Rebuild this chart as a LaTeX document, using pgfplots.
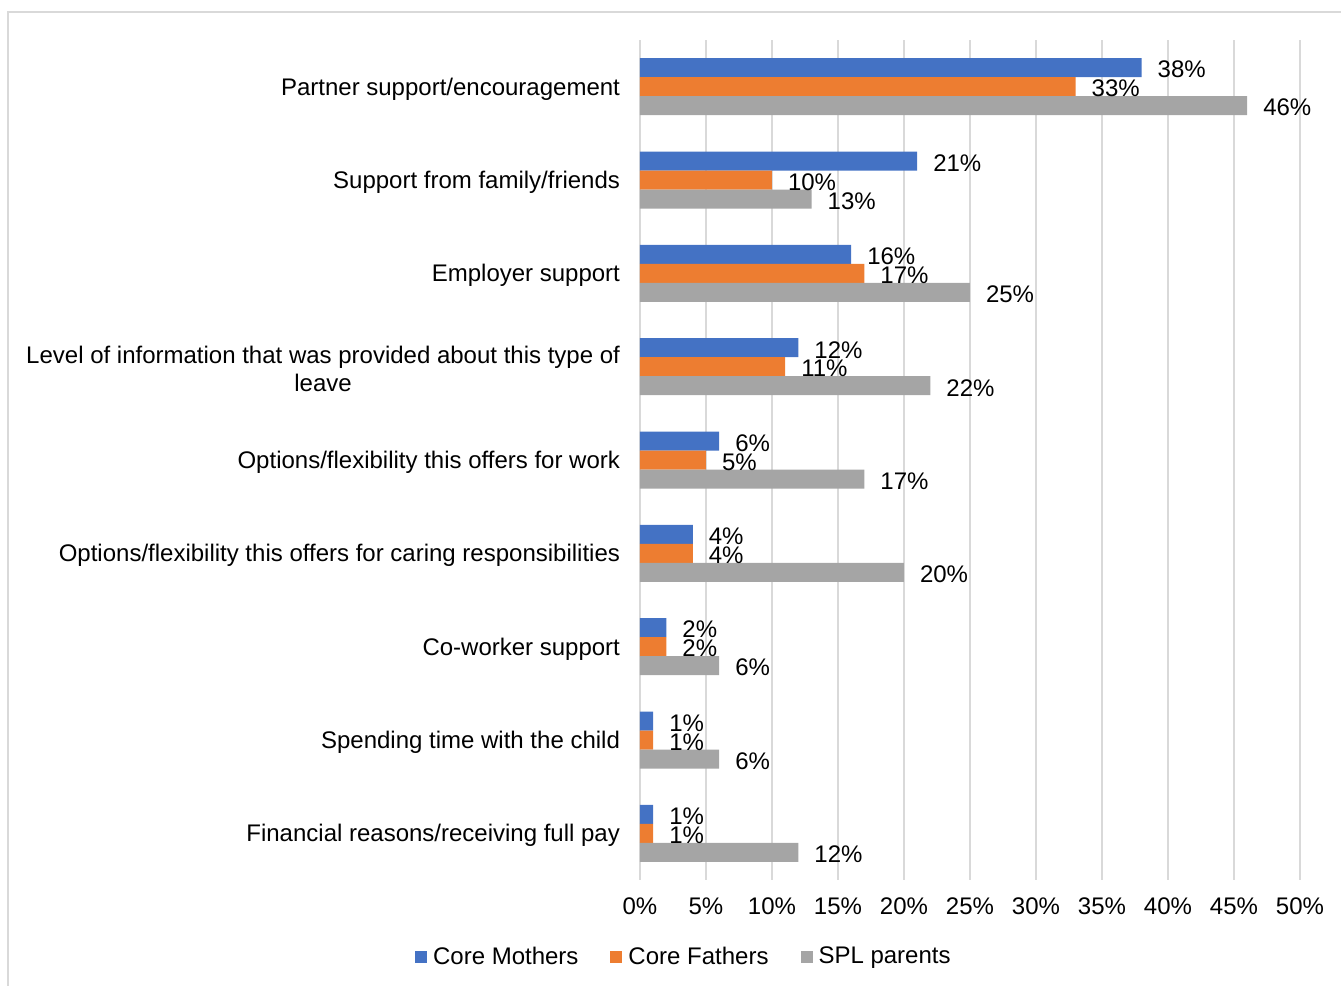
\documentclass[border=0pt]{standalone}
\usepackage{fontspec}
\setmainfont{Liberation Sans}
\usepackage{pgfplots}
\pgfplotsset{compat=1.18}
\definecolor{cmoth}{HTML}{4472C4}
\definecolor{cfath}{HTML}{ED7D31}
\definecolor{splp}{HTML}{A5A5A5}
\definecolor{gridc}{HTML}{D9D9D9}

\begin{document}
\begin{tikzpicture}[font=\fontsize{12}{14}\selectfont]
\useasboundingbox (0,0) rectangle (670.5pt,-493pt);
% outer chart frame (cropped at right and bottom)
\draw[gridc, line width=1pt] (4pt,-493pt) -- (4pt,-6pt) -- (670.5pt,-6pt);
\begin{axis}[
    at={(320pt,-440pt)}, anchor=south west,
    scale only axis, width=330pt, height=420pt,
    xbar, bar width=9.5pt,
    xmin=0, xmax=50, ymin=-0.5, ymax=8.5,
    y dir=reverse,
    axis line style={draw=none},
    major tick length=0pt,
    xmajorgrids, grid style={gridc, line width=1pt},
    xtick={0,5,...,50},
    xticklabel={\pgfmathprintnumber{\tick}\%},
    xticklabel style={yshift=-5.5pt},
    /pgf/number format/assume math mode=true,
    ytick={0,...,8},
    yticklabels={
        Partner support/encouragement,
        Support from family/friends,
        Employer support,
        {Level of information that was provided about this type of\\leave},
        Options/flexibility this offers for work,
        Options/flexibility this offers for caring responsibilities,
        Co-worker support,
        Spending time with the child,
        Financial reasons/receiving full pay},
    yticklabel style={align=center, xshift=-6.5pt, yshift=-1.2pt},
    point meta=x,
    nodes near coords={\pgfmathprintnumber{\pgfplotspointmeta}\%},
    every node near coord/.append style={anchor=west, xshift=4.5pt, yshift=-1pt, font=\fontsize{12}{14}\selectfont},
    legend style={at={(0.068,-0.0917)}, anchor=center, draw=none,
        legend columns=3, font=\fontsize{12}{14}\selectfont,
        /tikz/every even column/.append style={column sep=14pt}},
    legend image code/.code={\fill[#1] (0pt,-3pt) rectangle (6pt,3pt);},
    legend style={/tikz/every odd column/.append style={column sep=1pt}},
]
\addplot[fill=cmoth, draw=none, bar shift=9.5pt] coordinates {
    (38,0) (21,1) (16,2) (12,3) (6,4) (4,5) (2,6) (1,7) (1,8)
};
\addplot[fill=cfath, draw=none, bar shift=0pt] coordinates {
    (33,0) (10,1) (17,2) (11,3) (5,4) (4,5) (2,6) (1,7) (1,8)
};
\addplot[fill=splp, draw=none, bar shift=-9.5pt] coordinates {
    (46,0) (13,1) (25,2) (22,3) (17,4) (20,5) (6,6) (6,7) (12,8)
};
\legend{Core Mothers, Core Fathers, SPL parents}
\end{axis}
\end{tikzpicture}
\end{document}
